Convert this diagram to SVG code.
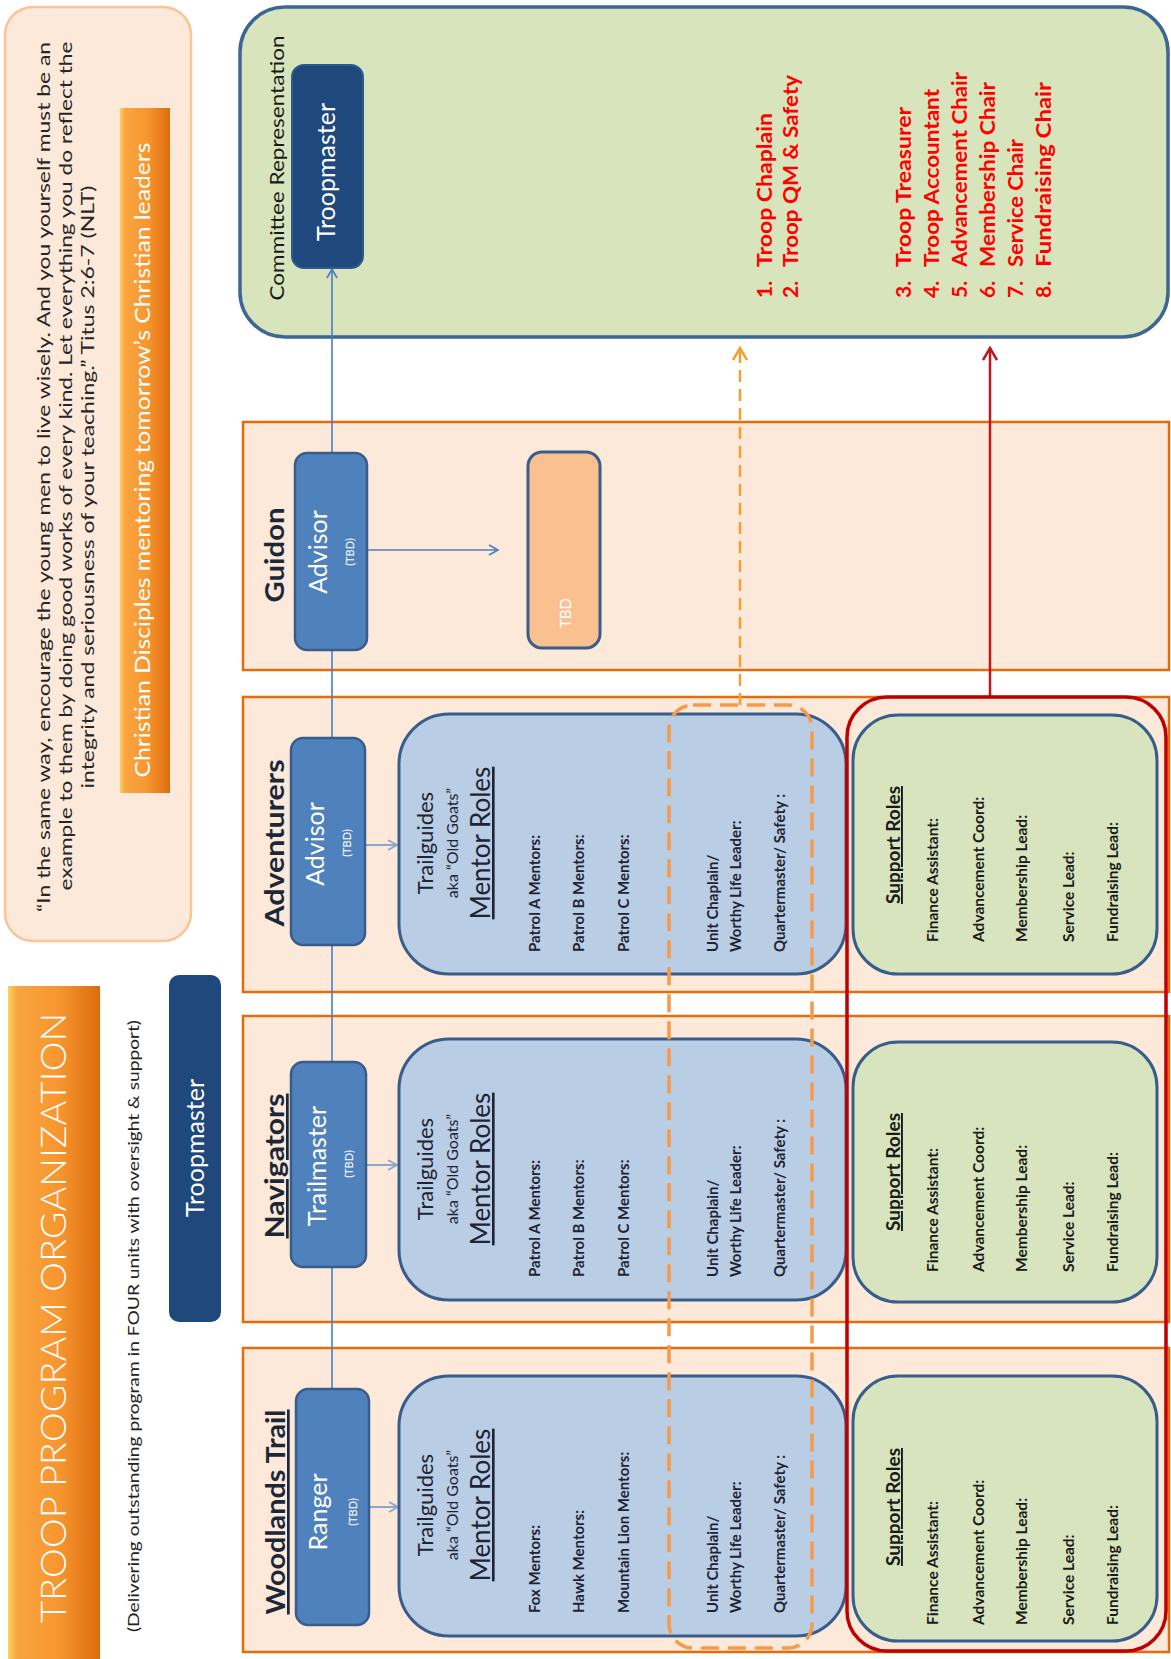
<svg xmlns="http://www.w3.org/2000/svg" width="1171" height="1659" viewBox="0 0 1171 1659">
<style>
text{font-family:Lato,"Open Sans","Liberation Sans",sans-serif}
.panel{fill:#fde9d9;stroke:#e46c0a;stroke-width:2.5}
.lead{fill:#4f81bd;stroke:#385d8a;stroke-width:2.5}
.mentor{fill:#b9cde5;stroke:#385d8a;stroke-width:3}
.support{fill:#d7e4bd;stroke:#385d8a;stroke-width:3}
.h{font-size:27px;font-weight:700;fill:#1b2838}
.lt{font-size:25px;fill:#fff}
.tbd{font-size:11px;fill:#fff}
.tg{font-size:22px;fill:#1e2433}
.aka{font-size:16px;fill:#1e2433}
.mr{font-size:26px;fill:#1e2433;text-decoration:underline}
.it{font-size:15px;font-weight:700;fill:#1e2433}
.sr{font-size:19px;font-weight:700;fill:#1a1a1a;text-decoration:underline}
.si{font-size:15.5px;font-weight:700;fill:#1a1a1a}
.red{font-size:21px;font-weight:700;fill:#ff0000}
.q{font-size:18px;fill:#262626}
.blue{stroke:#4a7ebb;stroke-width:1.6;fill:none}
.small{stroke:#8ba7cc;stroke-width:2;fill:none}
</style>
<defs>
<linearGradient id="gOr" x1="0" y1="0" x2="1" y2="0">
<stop offset="0" stop-color="#fbd35c"/>
<stop offset="0.1" stop-color="#f9a540"/>
<stop offset="0.55" stop-color="#f7962f"/>
<stop offset="1" stop-color="#dc6c0e"/>
</linearGradient>
<marker id="aBlue" markerWidth="12" markerHeight="12" refX="10" refY="6" orient="auto" markerUnits="userSpaceOnUse"><path d="M1,1 L10,6 L1,11" fill="none" stroke="#4a7ebb" stroke-width="1.6"/></marker>
<marker id="aSmall" markerWidth="12" markerHeight="12" refX="10" refY="6" orient="auto" markerUnits="userSpaceOnUse"><path d="M1,1 L10,6 L1,11" fill="none" stroke="#8ba7cc" stroke-width="2"/></marker>
<marker id="aOr" markerWidth="16" markerHeight="16" refX="14" refY="8" orient="auto" markerUnits="userSpaceOnUse"><path d="M2,1 L14,8 L2,15" fill="none" stroke="#f5a02e" stroke-width="2.5"/></marker>
<marker id="aRed" markerWidth="16" markerHeight="16" refX="14" refY="8" orient="auto" markerUnits="userSpaceOnUse"><path d="M2,1 L14,8 L2,15" fill="none" stroke="#c0171e" stroke-width="2.5"/></marker>
</defs>

<!-- header elements -->
<g id="title">
<rect x="8" y="986" width="92" height="680" fill="url(#gOr)"/>
<text transform="translate(66,1318) rotate(-90)" text-anchor="middle" font-size="36" font-weight="300" fill="#fff" textLength="610" lengthAdjust="spacingAndGlyphs">TROOP PROGRAM ORGANIZATION</text>
</g>
<g id="subtitle">
<text transform="translate(139,1326) rotate(-90)" text-anchor="middle" font-size="15.5" fill="#222" textLength="612" lengthAdjust="spacingAndGlyphs">(Delivering outstanding program in FOUR units with oversight &amp; support)</text>
</g>
<g id="troopmaster-left">
<rect x="169" y="975" width="52" height="347" rx="10" fill="#1f497d"/>
<text class="lt" transform="translate(204,1148) rotate(-90)" text-anchor="middle" font-size="28">Troopmaster</text>
</g>
<g id="quote">
<rect x="5" y="7" width="186" height="934" rx="28" fill="#fde9d9" stroke="#f9c498" stroke-width="2.5"/>
<text class="q" transform="translate(50,477) rotate(-90)" text-anchor="middle" textLength="870" lengthAdjust="spacingAndGlyphs">“In the same way, encourage the young men to live wisely.  And you yourself must be an</text>
<text class="q" transform="translate(72,466) rotate(-90)" text-anchor="middle" textLength="849" lengthAdjust="spacingAndGlyphs">example to them by doing good works of every kind.  Let everything you do reflect the</text>
<text class="q" transform="translate(94,487) rotate(-90)" text-anchor="middle" textLength="603" lengthAdjust="spacingAndGlyphs">integrity and seriousness of your teaching.” Titus 2:6-7 (NLT)</text>
</g>
<g id="banner">
<rect x="120" y="108" width="50" height="685" fill="url(#gOr)"/>
<text transform="translate(150,460) rotate(-90)" text-anchor="middle" font-size="21" fill="#fff" textLength="635" lengthAdjust="spacingAndGlyphs">Christian Disciples mentoring tomorrow’s Christian leaders</text>
</g>

<!-- committee -->
<g id="committee">
<rect x="240" y="7" width="928" height="330" rx="45" fill="#d8e4bc" stroke="#3c6696" stroke-width="3.5"/>
<text transform="translate(284,168) rotate(-90)" text-anchor="middle" font-size="19" fill="#1a1a1a" textLength="265" lengthAdjust="spacingAndGlyphs">Committee Representation</text>
<text class="red" transform="translate(772,298) rotate(-90)">1.</text>
<text class="red" transform="translate(772,267) rotate(-90)" textLength="154" lengthAdjust="spacingAndGlyphs">Troop Chaplain</text>
<text class="red" transform="translate(798,298) rotate(-90)">2.</text>
<text class="red" transform="translate(798,267) rotate(-90)" textLength="192" lengthAdjust="spacingAndGlyphs">Troop QM &amp; Safety</text>
<text class="red" transform="translate(911,298) rotate(-90)">3.</text>
<text class="red" transform="translate(911,267) rotate(-90)" textLength="160" lengthAdjust="spacingAndGlyphs">Troop Treasurer</text>
<text class="red" transform="translate(939,298) rotate(-90)">4.</text>
<text class="red" transform="translate(939,267) rotate(-90)" textLength="178" lengthAdjust="spacingAndGlyphs">Troop Accountant</text>
<text class="red" transform="translate(967,298) rotate(-90)">5.</text>
<text class="red" transform="translate(967,267) rotate(-90)" textLength="195" lengthAdjust="spacingAndGlyphs">Advancement Chair</text>
<text class="red" transform="translate(995,298) rotate(-90)">6.</text>
<text class="red" transform="translate(995,267) rotate(-90)" textLength="185" lengthAdjust="spacingAndGlyphs">Membership Chair</text>
<text class="red" transform="translate(1023,298) rotate(-90)">7.</text>
<text class="red" transform="translate(1023,267) rotate(-90)" textLength="128" lengthAdjust="spacingAndGlyphs">Service Chair</text>
<text class="red" transform="translate(1051,298) rotate(-90)">8.</text>
<text class="red" transform="translate(1051,267) rotate(-90)" textLength="185" lengthAdjust="spacingAndGlyphs">Fundraising Chair</text>
</g>

<!-- unit panels -->
<g id="panel-guidon"><rect class="panel" x="243" y="422" width="926" height="248"/>
<text class="h" transform="translate(284,555) rotate(-90)" text-anchor="middle" textLength="95" lengthAdjust="spacingAndGlyphs">Guidon</text></g>
<g id="panel-adventurers"><rect class="panel" x="243" y="697" width="926" height="295"/>
<text class="h" transform="translate(284,843) rotate(-90)" text-anchor="middle" textLength="167" lengthAdjust="spacingAndGlyphs">Adventurers</text></g>
<g id="panel-navigators"><rect class="panel" x="243" y="1016" width="926" height="306"/>
<text class="h" transform="translate(284,1166) rotate(-90)" text-anchor="middle" text-decoration="underline" textLength="145" lengthAdjust="spacingAndGlyphs">Navigators</text></g>
<g id="panel-woodlands"><rect class="panel" x="243" y="1348" width="926" height="304"/>
<text class="h" transform="translate(285,1512) rotate(-90)" text-anchor="middle" text-decoration="underline" textLength="205" lengthAdjust="spacingAndGlyphs">Woodlands Trail</text></g>

<!-- connectors -->
<g id="connectors">
<line class="blue" x1="332" y1="1389" x2="332" y2="269" marker-end="url(#aBlue)"/>
<line class="blue" x1="367" y1="550" x2="498" y2="550" marker-end="url(#aBlue)"/>
<line class="small" x1="365" y1="845" x2="397" y2="845" marker-end="url(#aSmall)"/>
<line class="small" x1="366" y1="1165" x2="397" y2="1165" marker-end="url(#aSmall)"/>
<line class="small" x1="369" y1="1507" x2="398" y2="1507" marker-end="url(#aSmall)"/>
<line x1="740" y1="705" x2="740" y2="348" stroke="#f5a02e" stroke-width="2.5" stroke-dasharray="12 7" marker-end="url(#aOr)"/>
<line x1="990" y1="697" x2="990" y2="348" stroke="#c0171e" stroke-width="2.5" marker-end="url(#aRed)"/>
</g>

<!-- committee troopmaster -->
<g id="troopmaster-committee">
<rect x="292" y="65" width="71" height="203" rx="12" fill="#1f497d" stroke="#2d5b90" stroke-width="2"/>
<text class="lt" transform="translate(335,172) rotate(-90)" text-anchor="middle">Troopmaster</text>
</g>

<!-- Guidon -->
<g id="guidon-advisor">
<rect class="lead" x="295" y="453" width="72" height="197" rx="12"/>
<text class="lt" transform="translate(327,552) rotate(-90)" text-anchor="middle">Advisor</text>
<text class="tbd" transform="translate(354,552) rotate(-90)" text-anchor="middle">(TBD)</text>
</g>
<g id="guidon-tbd">
<rect x="528" y="452" width="72" height="196" rx="14" fill="#fac090" stroke="#385d8a" stroke-width="3"/>
<text transform="translate(571,628) rotate(-90)" font-size="15" fill="#fff">TBD</text>
</g>

<!-- Adventurers -->
<g id="adventurers-advisor">
<rect class="lead" x="291" y="738" width="74" height="207" rx="12"/>
<text class="lt" transform="translate(324,844) rotate(-90)" text-anchor="middle">Advisor</text>
<text class="tbd" transform="translate(351,843) rotate(-90)" text-anchor="middle">(TBD)</text>
</g>
<g id="adventurers-mentors">
<rect class="mentor" x="399" y="714" width="447" height="260" rx="50"/>
<text class="tg" transform="translate(433,843) rotate(-90)" text-anchor="middle">Trailguides</text>
<text class="aka" transform="translate(458,843) rotate(-90)" text-anchor="middle">aka “Old Goats”</text>
<text class="mr" transform="translate(490,843) rotate(-90)" text-anchor="middle">Mentor Roles</text>
<text class="it" transform="translate(540,952) rotate(-90)">Patrol A Mentors:</text>
<text class="it" transform="translate(584,952) rotate(-90)">Patrol B Mentors:</text>
<text class="it" transform="translate(629,952) rotate(-90)">Patrol C Mentors:</text>
<text class="it" transform="translate(718,952) rotate(-90)">Unit Chaplain/</text>
<text class="it" transform="translate(741,952) rotate(-90)">Worthy Life Leader:</text>
<text class="it" transform="translate(785,952) rotate(-90)">Quartermaster/ Safety :</text>
</g>
<g id="adventurers-support">
<rect class="support" x="853" y="715" width="304" height="259" rx="45"/>
<text class="sr" transform="translate(900,845) rotate(-90)" text-anchor="middle">Support Roles</text>
<text class="si" transform="translate(938,942) rotate(-90)">Finance Assistant:</text>
<text class="si" transform="translate(984,942) rotate(-90)">Advancement Coord:</text>
<text class="si" transform="translate(1027,942) rotate(-90)">Membership Lead:</text>
<text class="si" transform="translate(1074,942) rotate(-90)">Service Lead:</text>
<text class="si" transform="translate(1118,942) rotate(-90)">Fundraising Lead:</text>
</g>

<!-- Navigators -->
<g id="navigators-trailmaster">
<rect class="lead" x="291" y="1062" width="75" height="205" rx="12"/>
<text class="lt" transform="translate(326,1166) rotate(-90)" text-anchor="middle">Trailmaster</text>
<text class="tbd" transform="translate(353,1164) rotate(-90)" text-anchor="middle">(TBD)</text>
</g>
<g id="navigators-mentors">
<rect class="mentor" x="399" y="1039" width="447" height="261" rx="50"/>
<text class="tg" transform="translate(433,1169) rotate(-90)" text-anchor="middle">Trailguides</text>
<text class="aka" transform="translate(458,1169) rotate(-90)" text-anchor="middle">aka “Old Goats”</text>
<text class="mr" transform="translate(490,1169) rotate(-90)" text-anchor="middle">Mentor Roles</text>
<text class="it" transform="translate(540,1277) rotate(-90)">Patrol A Mentors:</text>
<text class="it" transform="translate(584,1277) rotate(-90)">Patrol B Mentors:</text>
<text class="it" transform="translate(629,1277) rotate(-90)">Patrol C Mentors:</text>
<text class="it" transform="translate(718,1277) rotate(-90)">Unit Chaplain/</text>
<text class="it" transform="translate(741,1277) rotate(-90)">Worthy Life Leader:</text>
<text class="it" transform="translate(785,1277) rotate(-90)">Quartermaster/ Safety :</text>
</g>
<g id="navigators-support">
<rect class="support" x="853" y="1042" width="304" height="260" rx="45"/>
<text class="sr" transform="translate(900,1172) rotate(-90)" text-anchor="middle">Support Roles</text>
<text class="si" transform="translate(938,1272) rotate(-90)">Finance Assistant:</text>
<text class="si" transform="translate(984,1272) rotate(-90)">Advancement Coord:</text>
<text class="si" transform="translate(1027,1272) rotate(-90)">Membership Lead:</text>
<text class="si" transform="translate(1074,1272) rotate(-90)">Service Lead:</text>
<text class="si" transform="translate(1118,1272) rotate(-90)">Fundraising Lead:</text>
</g>

<!-- Woodlands -->
<g id="woodlands-ranger">
<rect class="lead" x="296" y="1389" width="73" height="236" rx="12"/>
<text class="lt" transform="translate(327,1512) rotate(-90)" text-anchor="middle">Ranger</text>
<text class="tbd" transform="translate(357,1512) rotate(-90)" text-anchor="middle">(TBD)</text>
</g>
<g id="woodlands-mentors">
<rect class="mentor" x="399" y="1376" width="447" height="260" rx="50"/>
<text class="tg" transform="translate(433,1505) rotate(-90)" text-anchor="middle">Trailguides</text>
<text class="aka" transform="translate(458,1505) rotate(-90)" text-anchor="middle">aka “Old Goats”</text>
<text class="mr" transform="translate(490,1505) rotate(-90)" text-anchor="middle">Mentor Roles</text>
<text class="it" transform="translate(540,1613) rotate(-90)">Fox Mentors:</text>
<text class="it" transform="translate(584,1613) rotate(-90)">Hawk Mentors:</text>
<text class="it" transform="translate(629,1613) rotate(-90)">Mountain Lion Mentors:</text>
<text class="it" transform="translate(718,1613) rotate(-90)">Unit Chaplain/</text>
<text class="it" transform="translate(741,1613) rotate(-90)">Worthy Life Leader:</text>
<text class="it" transform="translate(785,1613) rotate(-90)">Quartermaster/ Safety :</text>
</g>
<g id="woodlands-support">
<rect class="support" x="853" y="1376" width="304" height="265" rx="45"/>
<text class="sr" transform="translate(900,1507) rotate(-90)" text-anchor="middle">Support Roles</text>
<text class="si" transform="translate(938,1625) rotate(-90)">Finance Assistant:</text>
<text class="si" transform="translate(984,1625) rotate(-90)">Advancement Coord:</text>
<text class="si" transform="translate(1027,1625) rotate(-90)">Membership Lead:</text>
<text class="si" transform="translate(1074,1625) rotate(-90)">Service Lead:</text>
<text class="si" transform="translate(1118,1625) rotate(-90)">Fundraising Lead:</text>
</g>

<!-- grouping outlines -->
<g id="chaplain-qm-group">
<rect x="669" y="705" width="143" height="943" rx="24" fill="none" stroke="#f59a4b" stroke-width="3.5" stroke-dasharray="18 9"/>
</g>
<g id="support-group">
<rect x="847" y="697" width="319" height="954" rx="40" fill="none" stroke="#c00000" stroke-width="3.5"/>
</g>
</svg>
